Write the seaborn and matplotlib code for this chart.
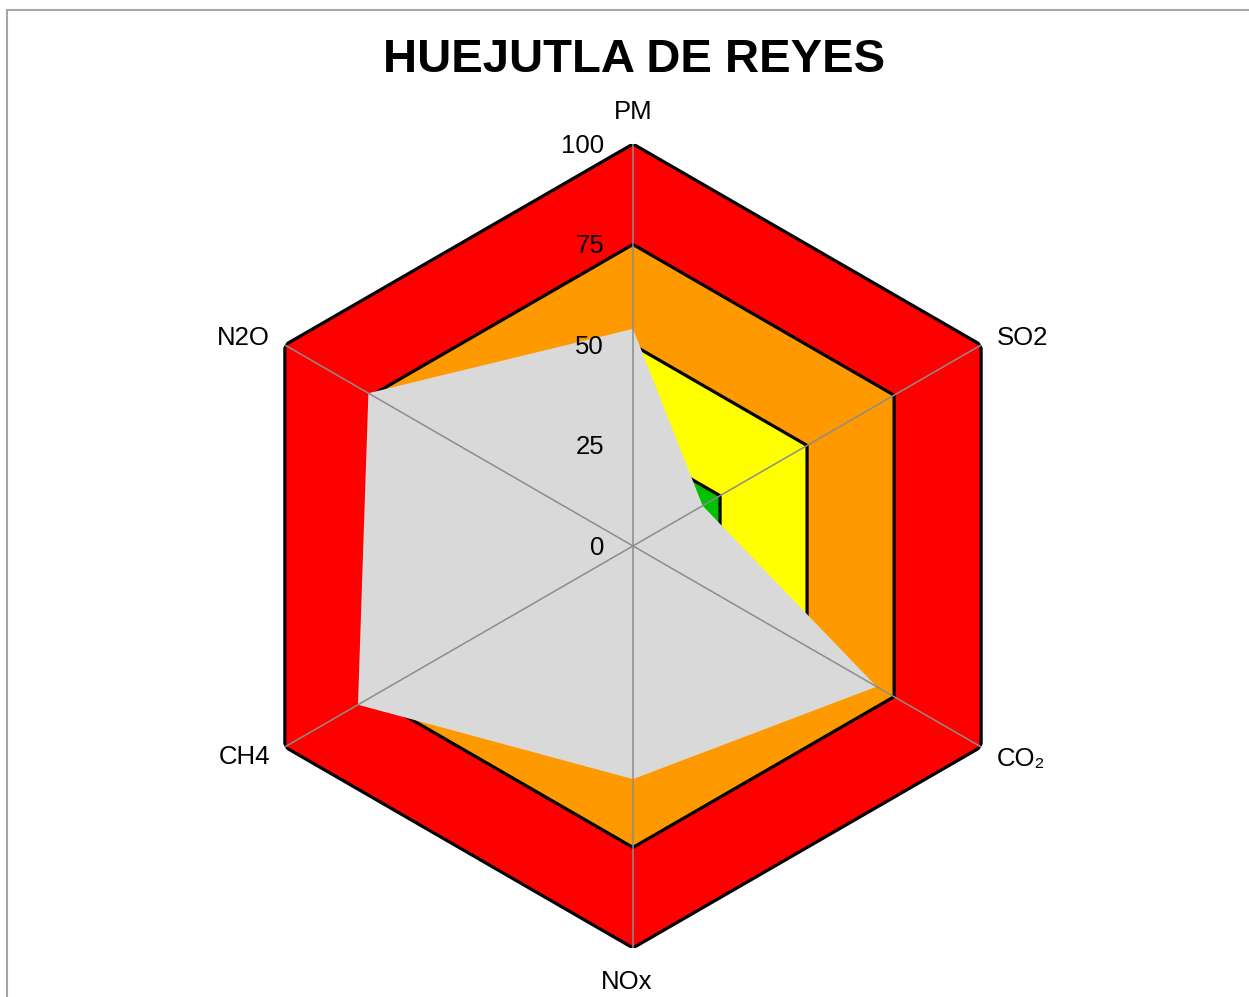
import numpy as np
import matplotlib.pyplot as plt
import matplotlib.patches as mpatches
import seaborn as sns

sns.set_theme(style="white")
plt.rcParams['font.family'] = ['Liberation Sans', 'DejaVu Sans']

# ---------------- DATA ----------------
title = "HUEJUTLA DE REYES"
categories = ["PM", "SO2", "CO\u2082", "NOx", "CH4", "N2O"]
values = [54, 20, 70, 58, 79, 76]
band_levels = [100, 75, 50, 25]
band_colors = ["#FF0000", "#FF9900", "#FFFF00", "#00C000"]
radial_ticks = [0, 25, 50, 75, 100]

# label offsets in pixels from the outer vertex, plus alignment
label_pos = [((0, 32), 'center'), ((16, 7), 'left'), ((16, -12), 'left'),
             ((-6, -34), 'center'), ((-15, -10), 'right'), ((-15, 7), 'right')]

n = len(categories)
theta = np.arange(n) * 2 * np.pi / n
theta_closed = np.append(theta, theta[0])

fig = plt.figure(figsize=(12.49, 9.97), dpi=100)
fig.patch.set_facecolor('white')

# outer frame (cut off on right/bottom like the source)
frame = mpatches.Rectangle((7 / 1249, -0.1), 1.2, (997 - 10) / 997 + 0.1,
                           transform=fig.transFigure, fill=False,
                           edgecolor='#A6A6A6', linewidth=1.5)
fig.patches.append(frame)

ax = fig.add_axes([0.1849, 0.0492, 0.6438, 0.8064], projection='polar')
ax.set_theta_offset(np.pi / 2)
ax.set_theta_direction(-1)
ax.set_ylim(0, 100)
ax.set_xticks([])
ax.set_yticks([])
ax.grid(False)
ax.spines['polar'].set_visible(False)
ax.patch.set_alpha(0)

# threshold bands
for lvl, col in zip(band_levels, band_colors):
    r = np.full(n + 1, lvl)
    ax.fill(theta_closed, r, facecolor=col, edgecolor='black',
            linewidth=2.3, zorder=2, joinstyle='miter')

# data polygon
vals_closed = np.append(values, values[0])
ax.fill(theta_closed, vals_closed, facecolor='#D9D9D9', edgecolor='none', zorder=3)

# spokes
for t in theta:
    ax.plot([t, t], [0, 100], color='#8C8C8C', linewidth=1.1, zorder=4)

# radial labels along PM axis
for v in radial_ticks:
    ax.annotate(str(v), xy=(0, v), xytext=(-29, -2), textcoords='offset pixels',
                ha='right', va='center', fontsize=18.5, color='black', zorder=5)

# category labels
for t, lab, (off, ha) in zip(theta, categories, label_pos):
    ax.annotate(lab, xy=(t, 100), xytext=off, textcoords='offset pixels',
                ha=ha, va='center', fontsize=18.5, color='black',
                annotation_clip=False)

fig.text(634 / 1249, 1 - 60 / 997, title, ha='center', va='center',
         fontsize=34, fontweight='bold', color='black')

plt.savefig("out.png", dpi=100)
